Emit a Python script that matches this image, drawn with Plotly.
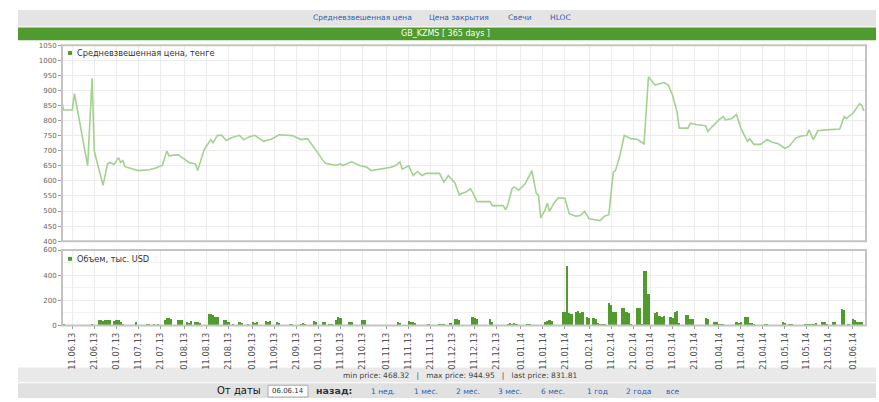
import plotly.graph_objects as go

# ---- price series (Средневзвешенная цена, тенге) ----
price_dates = [
    "2013-06-06", "2013-06-07", "2013-06-11", "2013-06-12", "2013-06-18", "2013-06-20", "2013-06-21",
    "2013-06-25", "2013-06-27", "2013-06-28", "2013-06-30", "2013-07-02", "2013-07-03", "2013-07-04",
    "2013-07-05", "2013-07-07", "2013-07-11", "2013-07-16", "2013-07-19", "2013-07-22", "2013-07-24",
    "2013-07-25", "2013-07-29", "2013-08-01", "2013-08-03", "2013-08-06", "2013-08-07", "2013-08-10",
    "2013-08-13", "2013-08-14", "2013-08-16", "2013-08-18", "2013-08-20", "2013-08-22", "2013-08-26",
    "2013-08-28", "2013-08-30", "2013-09-02", "2013-09-06", "2013-09-10", "2013-09-13", "2013-09-19",
    "2013-09-23", "2013-09-26", "2013-09-30", "2013-10-04", "2013-10-09", "2013-10-11", "2013-10-12",
    "2013-10-16", "2013-10-20", "2013-10-23", "2013-10-25", "2013-10-29", "2013-11-03", "2013-11-05",
    "2013-11-07", "2013-11-08", "2013-11-11", "2013-11-13", "2013-11-15", "2013-11-17", "2013-11-19",
    "2013-11-25", "2013-11-27", "2013-11-29", "2013-12-02", "2013-12-04", "2013-12-05", "2013-12-07",
    "2013-12-09", "2013-12-10", "2013-12-12", "2013-12-18", "2013-12-19", "2013-12-24", "2013-12-25",
    "2013-12-26", "2013-12-28", "2013-12-29", "2013-12-31", "2014-01-03", "2014-01-06", "2014-01-08",
    "2014-01-09", "2014-01-10", "2014-01-12", "2014-01-13", "2014-01-14", "2014-01-16", "2014-01-18",
    "2014-01-21", "2014-01-23", "2014-01-26", "2014-01-28", "2014-01-30", "2014-02-01", "2014-02-06",
    "2014-02-08", "2014-02-10", "2014-02-12", "2014-02-13", "2014-02-15", "2014-02-17", "2014-02-20",
    "2014-02-23", "2014-02-26", "2014-02-28", "2014-03-03", "2014-03-07", "2014-03-09", "2014-03-11",
    "2014-03-13", "2014-03-14", "2014-03-18", "2014-03-19", "2014-03-22", "2014-03-26", "2014-03-27",
    "2014-03-29", "2014-04-01", "2014-04-03", "2014-04-04", "2014-04-07", "2014-04-09", "2014-04-11",
    "2014-04-13", "2014-04-14", "2014-04-15", "2014-04-17", "2014-04-20", "2014-04-23", "2014-04-25",
    "2014-04-28", "2014-05-01", "2014-05-03", "2014-05-06", "2014-05-08", "2014-05-11", "2014-05-12",
    "2014-05-14", "2014-05-16", "2014-05-20", "2014-05-26", "2014-05-28", "2014-05-29", "2014-06-01",
    "2014-06-04", "2014-06-05", "2014-06-06",
]
price_values = [
    875, 835, 835, 889, 650, 940, 699,
    585, 656, 661, 654, 677, 661, 667,
    647, 643, 634, 637, 643, 652, 699,
    683, 687, 672, 661, 656, 634, 704,
    737, 727, 751, 751, 734, 742, 751,
    736, 745, 751, 731, 740, 753, 750,
    737, 740, 699, 658, 652, 656, 651,
    663, 650, 645, 634, 639, 645, 651,
    663, 639, 650, 618, 631, 618, 625,
    625, 596, 618, 593, 553, 558, 563,
    574, 563, 531, 531, 518, 518, 504,
    520, 574, 580, 569, 591, 634, 558,
    553, 477, 504, 526, 499, 526, 544,
    542, 491, 483, 485, 499, 474, 468.32,
    483, 488, 628, 634, 683, 751, 740,
    737, 723, 944.95, 918, 926, 918, 883,
    829, 775, 775, 791, 786, 783, 764,
    780, 802, 813, 802, 807, 820, 775,
    742, 731, 740, 721, 721, 737, 729,
    723, 708, 715, 742, 748, 751, 769,
    737, 766, 769, 772, 813, 807, 824,
    856, 850, 831.81,
]

# ---- volume series (Объем, тыс. USD) ----
volume_dates = [
    "2013-06-06", "2013-06-07", "2013-06-08", "2013-06-20", "2013-06-23", "2013-06-24", "2013-06-25",
    "2013-06-26", "2013-06-27", "2013-06-28", "2013-06-30", "2013-07-01", "2013-07-02", "2013-07-03",
    "2013-07-04", "2013-07-10", "2013-07-15", "2013-07-16", "2013-07-18", "2013-07-20", "2013-07-23",
    "2013-07-24", "2013-07-25", "2013-07-26", "2013-07-29", "2013-07-30", "2013-07-31", "2013-08-02",
    "2013-08-03", "2013-08-04", "2013-08-06", "2013-08-07", "2013-08-08", "2013-08-12", "2013-08-13",
    "2013-08-14", "2013-08-15", "2013-08-16", "2013-08-19", "2013-08-20", "2013-08-21", "2013-08-23",
    "2013-08-26", "2013-08-27", "2013-08-30", "2013-09-01", "2013-09-02", "2013-09-03", "2013-09-07",
    "2013-09-08", "2013-09-09", "2013-09-12", "2013-09-13", "2013-09-18", "2013-09-19", "2013-09-23",
    "2013-09-24", "2013-09-25", "2013-09-29", "2013-09-30", "2013-10-03", "2013-10-04", "2013-10-06",
    "2013-10-07", "2013-10-09", "2013-10-10", "2013-10-11", "2013-10-15", "2013-10-16", "2013-10-21",
    "2013-10-22", "2013-11-06", "2013-11-07", "2013-11-11", "2013-11-12", "2013-11-13", "2013-11-14",
    "2013-11-20", "2013-11-25", "2013-11-26", "2013-11-27", "2013-11-30", "2013-12-02", "2013-12-03",
    "2013-12-04", "2013-12-10", "2013-12-11", "2013-12-12", "2013-12-18", "2013-12-19", "2013-12-26",
    "2013-12-27", "2013-12-28", "2013-12-29", "2013-12-30", "2014-01-04", "2014-01-05", "2014-01-12",
    "2014-01-13", "2014-01-14", "2014-01-15", "2014-01-20", "2014-01-21", "2014-01-22", "2014-01-23",
    "2014-01-24", "2014-01-26", "2014-01-27", "2014-01-28", "2014-01-29", "2014-01-31", "2014-02-01",
    "2014-02-03", "2014-02-04", "2014-02-05", "2014-02-06", "2014-02-07", "2014-02-08", "2014-02-10",
    "2014-02-11", "2014-02-12", "2014-02-13", "2014-02-16", "2014-02-17", "2014-02-18", "2014-02-19",
    "2014-02-20", "2014-02-23", "2014-02-24", "2014-02-25", "2014-02-26", "2014-02-27", "2014-02-28",
    "2014-03-03", "2014-03-04", "2014-03-05", "2014-03-06", "2014-03-07", "2014-03-10", "2014-03-11",
    "2014-03-12", "2014-03-13", "2014-03-14", "2014-03-17", "2014-03-18", "2014-03-19", "2014-03-20",
    "2014-03-26", "2014-03-27", "2014-03-30", "2014-03-31", "2014-04-01", "2014-04-02", "2014-04-03",
    "2014-04-09", "2014-04-10", "2014-04-11", "2014-04-13", "2014-04-14", "2014-04-15", "2014-04-16",
    "2014-04-17", "2014-04-22", "2014-04-23", "2014-04-30", "2014-05-01", "2014-05-03", "2014-05-04",
    "2014-05-10", "2014-05-11", "2014-05-12", "2014-05-13", "2014-05-14", "2014-05-15", "2014-05-18",
    "2014-05-19", "2014-05-20", "2014-05-23", "2014-05-24", "2014-05-27", "2014-05-28", "2014-05-30",
    "2014-06-01", "2014-06-02", "2014-06-03", "2014-06-04", "2014-06-05",
]
volume_values = [
    5, 5, 3, 10, 40, 45, 35,
    45, 42, 40, 35, 45, 40, 25,
    15, 30, 15, 12, 15, 8, 45,
    60, 62, 55, 45, 40, 45, 30,
    20, 35, 25, 30, 20, 95, 90,
    80, 70, 65, 45, 40, 30, 15,
    25, 20, 8, 25, 20, 25, 35,
    30, 35, 25, 20, 15, 12, 15,
    20, 10, 35, 30, 30, 25, 8,
    10, 40, 65, 60, 30, 25, 45,
    40, 30, 20, 35, 30, 25, 20,
    8, 15, 10, 15, 20, 55, 50,
    45, 65, 60, 55, 55, 25, 15,
    20, 15, 18, 15, 5, 5, 30,
    35, 40, 35, 110, 110, 474, 100,
    95, 110, 112, 100, 110, 65, 60,
    60, 55, 20, 15, 12, 10, 175,
    165, 110, 105, 140, 135, 110, 100,
    15, 140, 135, 10, 434, 430, 250,
    100, 105, 75, 70, 75, 65, 60,
    110, 113, 20, 85, 80, 55, 50,
    60, 55, 30, 25, 10, 8, 5,
    25, 20, 25, 70, 65, 20, 18,
    15, 15, 12, 25, 20, 5, 5,
    15, 15, 12, 15, 15, 20, 30,
    25, 5, 30, 30, 130, 125, 5,
    50, 45, 30, 30, 28,
]

# ---- axis ticks ----
tick_dates = [
    "2013-06-11", "2013-06-21", "2013-07-01", "2013-07-11", "2013-07-21", "2013-08-01",
    "2013-08-11", "2013-08-21", "2013-09-01", "2013-09-11", "2013-09-21", "2013-10-01",
    "2013-10-11", "2013-10-21", "2013-11-01", "2013-11-11", "2013-11-21", "2013-12-01",
    "2013-12-11", "2013-12-21", "2014-01-01", "2014-01-11", "2014-01-21", "2014-02-01",
    "2014-02-11", "2014-02-21", "2014-03-01", "2014-03-11", "2014-03-21", "2014-04-01",
    "2014-04-11", "2014-04-21", "2014-05-01", "2014-05-11", "2014-05-21", "2014-06-01",
]
tick_labels = [d[8:10] + "." + d[5:7] + "." + d[2:4] for d in tick_dates]

price_ticks = list(range(400, 1051, 50))
volume_ticks = [0, 200, 400, 600]

title_text = "GB_KZMS [ 365 days ]"
nav_links = ["Средневзвешенная цена", "Цена закрытия", "Свечи", "HLOC"]
period_links = ["1 нед.", "1 мес.", "2 мес.", "3 мес.", "6 мес.", "1 год", "2 года", "все"]
stats_text = "min price: 468.32   |   max price: 944.95   |   last price: 831.81"

W, H = 879, 402
FONT = "DejaVu Sans"


def px(x):
    return x / W


def py(y):
    return 1 - y / H


fig = go.Figure()
fig.add_trace(go.Scatter(
    x=price_dates, y=price_values, mode="lines",
    line=dict(color="#a3d18f", width=1.6),
    xaxis="x", yaxis="y", showlegend=False, hoverinfo="x+y",
))
fig.add_trace(go.Bar(
    x=volume_dates, y=volume_values, marker=dict(color="#519a2e", line=dict(width=0)),
    width=86400000 * 1.0, xaxis="x2", yaxis="y2", showlegend=False,
))

xr = ["2013-06-06 08:00", "2014-06-06 22:00"]
xdom = [px(62), px(866)]
grid = "#ececec"
tickfont = dict(family=FONT, size=7, color="#666")

fig.update_layout(
    width=W, height=H, margin=dict(l=0, r=0, t=0, b=0),
    paper_bgcolor="white", plot_bgcolor="white",
    bargap=0,
    xaxis=dict(domain=xdom, anchor="y", range=xr, type="date", tickvals=tick_dates,
               showticklabels=False, showgrid=True, gridcolor=grid, zeroline=False,
               showline=False),
    xaxis2=dict(domain=xdom, anchor="y2", range=xr, type="date", matches="x",
                tickvals=tick_dates, ticktext=tick_labels, tickangle=-90,
                tickfont=dict(family=FONT, size=8.3, color="#555"),
                ticks="outside", ticklen=3, tickcolor="#999",
                showgrid=True, gridcolor=grid, zeroline=False, showline=False),
    yaxis=dict(domain=[py(242), py(42)], anchor="x", range=[400, 1050], tickvals=price_ticks,
               tickfont=tickfont, ticks="outside", ticklen=3, tickcolor="#999",
               showgrid=True, gridcolor=grid, zeroline=False, showline=False),
    yaxis2=dict(domain=[py(328), py(251)], anchor="x2", range=[0, 600], tickvals=volume_ticks,
                tickfont=tickfont, ticks="outside", ticklen=3, tickcolor="#999",
                showgrid=True, gridcolor=grid, zeroline=False, showline=False,
                minor=dict(dtick=100, showgrid=True, gridcolor="#f1f1f1")),
)

shapes = [
    # top nav bar
    dict(type="rect", xref="paper", yref="paper", x0=px(18), x1=px(876), y0=py(23), y1=py(6),
         fillcolor="#e4e4e4", line=dict(width=0), layer="below"),
    # green title bar
    dict(type="rect", xref="paper", yref="paper", x0=px(18), x1=px(876), y0=py(37), y1=py(24),
         fillcolor="#4f9b2f", line=dict(width=0), layer="below"),
    # plot frames
    dict(type="rect", xref="paper", yref="paper", x0=px(62), x1=px(866), y0=py(242), y1=py(42),
         fillcolor="rgba(0,0,0,0)", line=dict(color="#c4c4c4", width=2), layer="above"),
    dict(type="rect", xref="paper", yref="paper", x0=px(62), x1=px(866), y0=py(328), y1=py(251),
         fillcolor="rgba(0,0,0,0)", line=dict(color="#c4c4c4", width=2), layer="above"),
    # stats band
    dict(type="rect", xref="paper", yref="paper", x0=px(18), x1=px(876), y0=py(386), y1=py(371),
         fillcolor="#e9e9e9", line=dict(width=0), layer="below"),
    # controls band
    dict(type="rect", xref="paper", yref="paper", x0=px(18), x1=px(876), y0=py(402), y1=py(387),
         fillcolor="#e1e1e1", line=dict(width=0), layer="below"),
    # date input
    dict(type="rect", xref="paper", yref="paper", x0=px(268), x1=px(308), y0=py(401), y1=py(389),
         fillcolor="white", line=dict(color="#aaa", width=1), layer="below"),
    # legend markers
    dict(type="rect", xref="paper", yref="paper", x0=px(68), x1=px(72), y0=py(52), y1=py(48),
         fillcolor="#4f9b2f", line=dict(width=0)),
    dict(type="rect", xref="paper", yref="paper", x0=px(68), x1=px(72), y0=py(262), y1=py(258),
         fillcolor="#4f9b2f", line=dict(width=0)),
]
fig.update_layout(shapes=shapes)

ann = []
# top nav links
nav_x = [362, 459, 520, 560]
for t, x in zip(nav_links, nav_x):
    ann.append(dict(text=t, x=px(x), y=py(14), xref="paper", yref="paper", showarrow=False,
                    xanchor="center", yanchor="middle",
                    font=dict(family=FONT, size=7.5, color="#2f5fb3")))
ann.append(dict(text=title_text, x=px(446), y=py(30.5), xref="paper", yref="paper", showarrow=False,
                xanchor="center", yanchor="middle", font=dict(family=FONT, size=8, color="white")))
ann.append(dict(text="Средневзвешенная цена, тенге", x=px(75), y=py(50), xref="paper", yref="paper",
                showarrow=False, xanchor="left", yanchor="middle",
                font=dict(family=FONT, size=8.2, color="#333")))
ann.append(dict(text="Объем, тыс. USD", x=px(75), y=py(260), xref="paper", yref="paper",
                showarrow=False, xanchor="left", yanchor="middle",
                font=dict(family=FONT, size=8.2, color="#333")))
ann.append(dict(text=stats_text, x=px(460), y=py(379), xref="paper", yref="paper",
                showarrow=False, xanchor="center", yanchor="middle",
                font=dict(family=FONT, size=7.5, color="#444")))
ann.append(dict(text="От даты", x=px(263), y=py(394.5), xref="paper", yref="paper",
                showarrow=False, xanchor="right", yanchor="middle",
                font=dict(family=FONT, size=10, color="#111")))
ann.append(dict(text="06.06.14", x=px(288), y=py(395), xref="paper", yref="paper",
                showarrow=False, xanchor="center", yanchor="middle",
                font=dict(family=FONT, size=7, color="#333")))
ann.append(dict(text="<b>назад:</b>", x=px(314), y=py(394.5), xref="paper", yref="paper",
                showarrow=False, xanchor="left", yanchor="middle",
                font=dict(family=FONT, size=9.5, color="#333")))
period_x = [383, 426, 468, 510, 553, 597, 638, 673]
for t, x in zip(period_links, period_x):
    ann.append(dict(text=t, x=px(x), y=py(395), xref="paper", yref="paper", showarrow=False,
                    xanchor="center", yanchor="middle",
                    font=dict(family=FONT, size=7.5, color="#2f5fb3")))
fig.update_layout(annotations=ann)

fig.write_html("out.html", config={"displayModeBar": False},
               post_script="document.body.style.margin='0';document.body.style.overflow='hidden';")
